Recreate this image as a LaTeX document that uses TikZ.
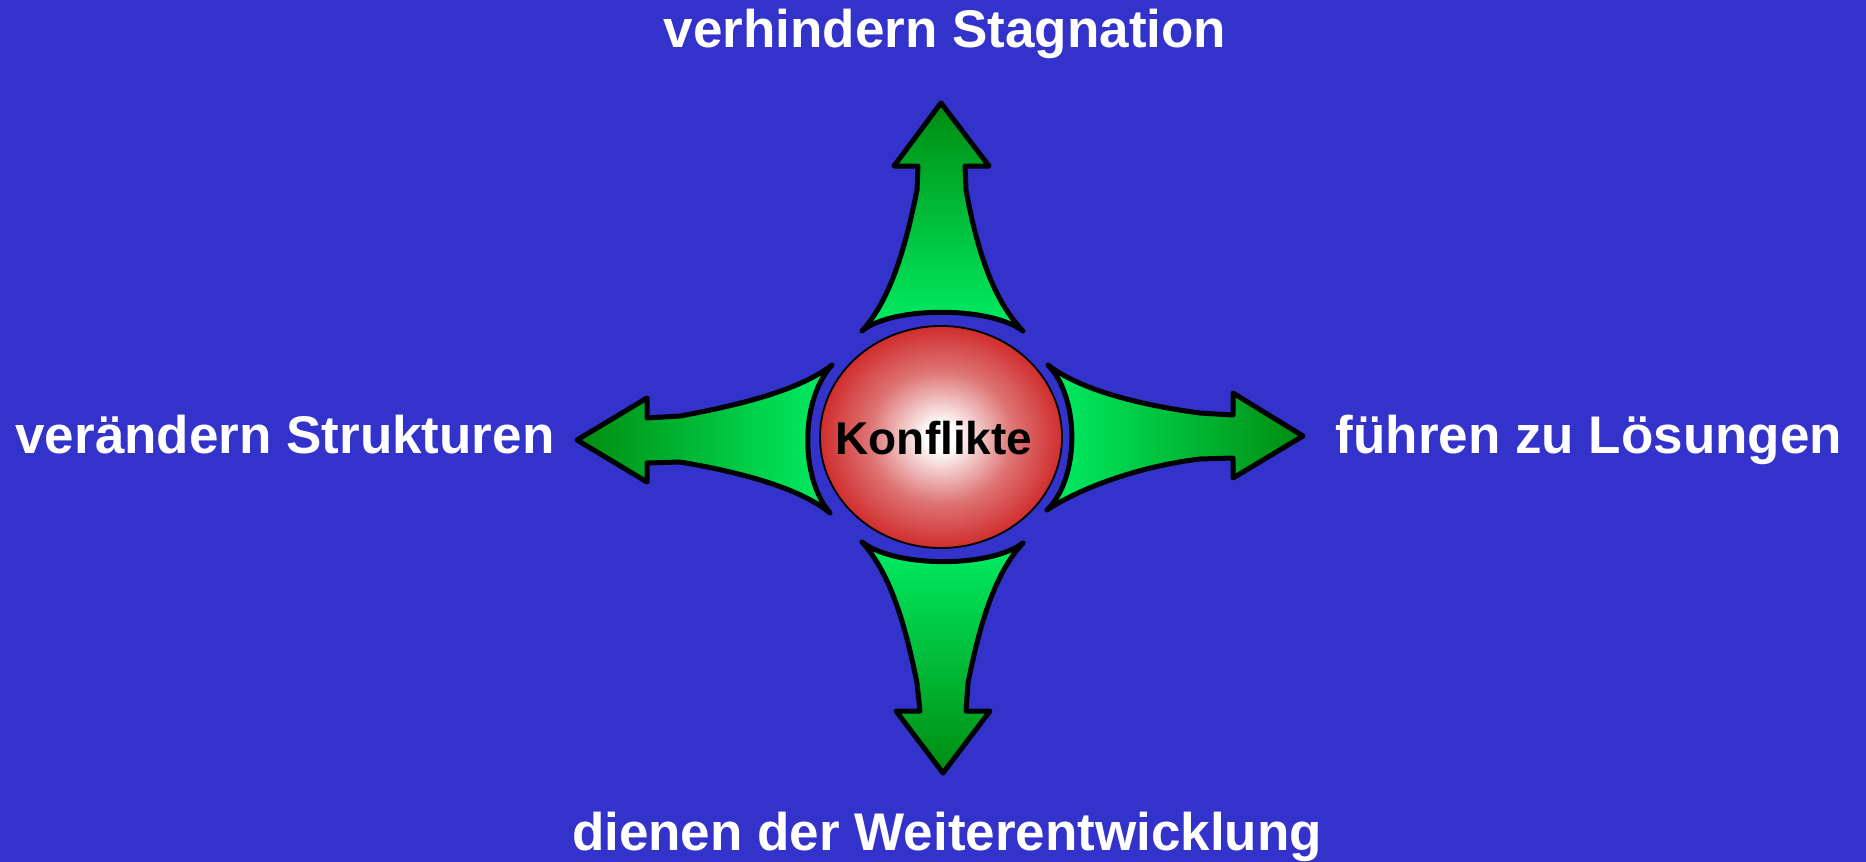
\documentclass[tikz,border=0pt]{standalone}
\usepackage{fontspec}
\setmainfont{Liberation Sans}
\usetikzlibrary{shapes.geometric}
\definecolor{bg}{RGB}{51,51,204}
\definecolor{ballred}{RGB}{202,10,10}
\definecolor{ballmid}{RGB}{222,115,115}
\definecolor{ardark}{RGB}{0,140,16}
\definecolor{armid}{RGB}{0,200,66}
\definecolor{arbright}{RGB}{0,238,100}
\pgfdeclareradialshading{ballshade}{\pgfpoint{0bp}{0bp}}{color(0bp)=(white); color(3bp)=(white); color(15bp)=(ballmid); color(30bp)=(ballred); color(50bp)=(ballred)}
\tikzset{
  lbl/.style={text=white, font=\fontsize{53}{60}\selectfont\bfseries, anchor=base, inner sep=0pt},
  bigarrow/.style={draw=black, line width=5pt, line join=round},
  ball/.style={ellipse, draw=black, line width=1.8pt, shading=ballshade, minimum width=242pt, minimum height=222pt, inner sep=0pt},
  ctr/.style={text=black, font=\fontsize{46}{52}\selectfont\bfseries, anchor=base, inner sep=0pt}
}
\begin{document}
\begin{tikzpicture}[x=1pt,y=-1pt]
\useasboundingbox (0,0) rectangle (1866,862);
\fill[bg] (0,0) rectangle (1866,862);

% up arrow
\path[bigarrow, top color=ardark, middle color=armid, bottom color=arbright]
  (941,103) -- (989,166) -- (965,166) -- (966,190)
  .. controls (977,250) and (993,300) .. (1023,331)
  .. controls (990,306) and (892,306) .. (862,331)
  .. controls (890,300) and (905,250) .. (917,190)
  -- (918,166) -- (894,166) -- cycle;

% down arrow
\path[bigarrow, top color=arbright, middle color=armid, bottom color=ardark]
  (943,773) -- (990,711) -- (966,711) -- (968,683)
  .. controls (980,623) and (995,573) .. (1023,543)
  .. controls (990,568) and (895,568) .. (862,542)
  .. controls (890,573) and (905,623) .. (917,683)
  -- (920,711) -- (896,711) -- cycle;

% left arrow
\path[bigarrow, left color=ardark, middle color=armid, right color=arbright]
  (577,440) -- (647,398) -- (647,418) -- (680,416)
  .. controls (740,405) and (800,390) .. (832,365)
  .. controls (800,400) and (800,478) .. (830,513)
  .. controls (800,488) and (740,472) .. (680,462)
  -- (647,463) -- (647,482) -- cycle;

% right arrow
\path[bigarrow, left color=arbright, middle color=armid, right color=ardark]
  (1303,436) -- (1233,393) -- (1233,415) -- (1200,413)
  .. controls (1140,405) and (1080,390) .. (1048,365)
  .. controls (1080,398) and (1080,478) .. (1047,510)
  .. controls (1080,488) and (1140,466) .. (1200,459)
  -- (1233,458) -- (1233,478) -- cycle;

\node[ball] (konflikte) at (941,437) {};
\node[ctr] (konflikte-label) at (934,454) {Konflikte};

\node[lbl] (top) at (945,47) {verhindern Stagnation};
\node[lbl] (left) at (285,453) {verändern Strukturen};
\node[lbl] (right) at (1589,453) {führen zu Lösungen};
\node[lbl] (bottom) at (947,850) {dienen der Weiterentwicklung};
\end{tikzpicture}
\end{document}
